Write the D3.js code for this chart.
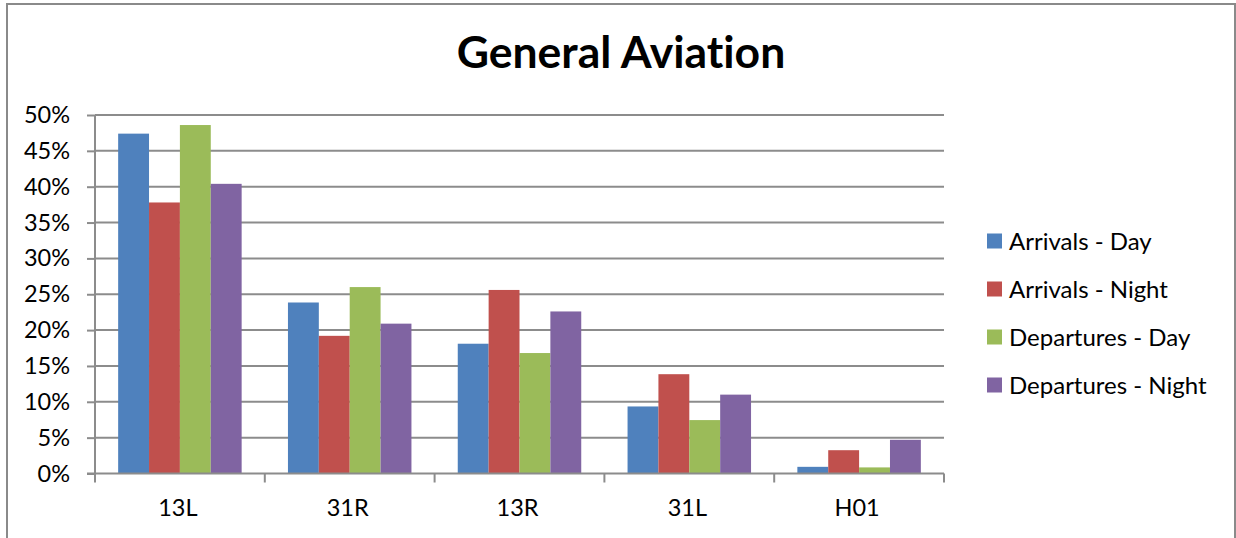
<!DOCTYPE html>
<html><head><meta charset="utf-8">
<script src="https://cdn.jsdelivr.net/npm/d3@7"></script>
<style>
html,body{margin:0;padding:0;background:#fff;}
svg{display:block;}
text{font-family:Lato,"Open Sans",sans-serif;fill:#000;font-variant-ligatures:none;}
</style></head>
<body>
<svg id="chart" width="1236" height="538"></svg>
<script>
const title = "General Aviation";
const categories = ["13L", "31R", "13R", "31L", "H01"];
const seriesNames = ["Arrivals - Day", "Arrivals - Night", "Departures - Day", "Departures - Night"];
const seriesColors = ["#4F81BD", "#C0504D", "#9BBB59", "#8064A2"];
const arrivalsDay = [47.4, 23.85, 18.1, 9.35, 0.93];
const arrivalsNight = [37.8, 19.2, 25.6, 13.85, 3.25];
const departuresDay = [48.6, 26.0, 16.8, 7.45, 0.85];
const departuresNight = [40.4, 20.9, 22.6, 11.0, 4.7];
const yTicks = [0, 5, 10, 15, 20, 25, 30, 35, 40, 45, 50];

const seriesValues = [arrivalsDay, arrivalsNight, departuresDay, departuresNight];

const svg = d3.select("#chart");
const W = 1236, H = 538;
const plot = {left: 95, right: 944, top: 115, bottom: 473.5};

// outer border
svg.append("path")
  .attr("d", `M7,${H} L7,4 L1235,4 L1235,${H}`)
  .attr("fill", "none").attr("stroke", "#8a8a8a").attr("stroke-width", 2);

const x0 = d3.scaleBand().domain(categories).range([plot.left, plot.right]).paddingInner(0).paddingOuter(0);
// Excel gap width 150%: band = 4 bars + 1.5 bar
const bw = x0.bandwidth() / 5.5;
const x1 = d3.scaleBand().domain(seriesNames).range([0.75 * bw, 4.75 * bw]).padding(0);
const y = d3.scaleLinear().domain([0, 50]).range([plot.bottom, plot.top]);

// gridlines
svg.append("g").selectAll("line").data(yTicks.filter(d => d > 0)).join("line")
  .attr("x1", plot.left).attr("x2", plot.right)
  .attr("y1", d => y(d)).attr("y2", d => y(d))
  .attr("stroke", "#8c8c8c").attr("stroke-width", 2);

// bars
const g = svg.append("g");
seriesValues.forEach((vals, si) => {
  g.append("g").selectAll("rect").data(categories).join("rect")
    .attr("x", c => x0(c) + x1(seriesNames[si]))
    .attr("width", x1.bandwidth())
    .attr("y", (c, i) => y(vals[i]))
    .attr("height", (c, i) => y(0) - y(vals[i]))
    .attr("fill", seriesColors[si]);
});

// y axis
const yAxis = d3.axisLeft(y).tickValues(yTicks).tickFormat(d => d + "%").tickSize(8).tickPadding(17);
const ya = svg.append("g").attr("transform", `translate(${plot.left},0)`).call(yAxis);
ya.select(".domain").attr("stroke", "#8c8c8c").attr("stroke-width", 2).attr("d", `M0,${plot.top}V${plot.bottom}`);
ya.selectAll(".tick line").attr("stroke", "#8c8c8c").attr("stroke-width", 2);
ya.selectAll(".tick text").attr("font-family", "Lato").attr("font-size", 23.5).attr("fill", "#000");

// x axis
const xAxis = d3.axisBottom(x0).tickSize(0).tickPadding(0);
const xa = svg.append("g").attr("transform", `translate(0,${plot.bottom})`).call(xAxis);
xa.select(".domain").attr("stroke", "#8c8c8c").attr("stroke-width", 2).attr("d", `M${plot.left - 8},0H${plot.right}`);
xa.selectAll(".tick text").attr("font-family", "Lato").attr("font-size", 23.5).attr("fill", "#000")
  .attr("x", -2).attr("y", 42).attr("dy", 0);
// category boundary ticks
const bounds = categories.map(c => x0(c)).concat([plot.right]);
xa.append("g").selectAll("line").data(bounds).join("line")
  .attr("x1", d => d).attr("x2", d => d).attr("y1", 0).attr("y2", 9)
  .attr("stroke", "#8c8c8c").attr("stroke-width", 2);

// title
svg.append("text").attr("x", 621).attr("y", 68).attr("text-anchor", "middle")
  .attr("font-size", 44.5).attr("font-weight", "bold").text(title);

// legend
const lg = svg.append("g").selectAll("g").data(seriesNames).join("g")
  .attr("transform", (d, i) => `translate(987,${241 + i * 48})`);
lg.append("rect").attr("x", 0).attr("y", -7.5).attr("width", 15).attr("height", 15)
  .attr("fill", (d, i) => seriesColors[i]);
lg.append("text").attr("x", 22).attr("y", 0).attr("dy", "0.36em").attr("font-size", 24).text(d => d);
</script>
</body></html>
